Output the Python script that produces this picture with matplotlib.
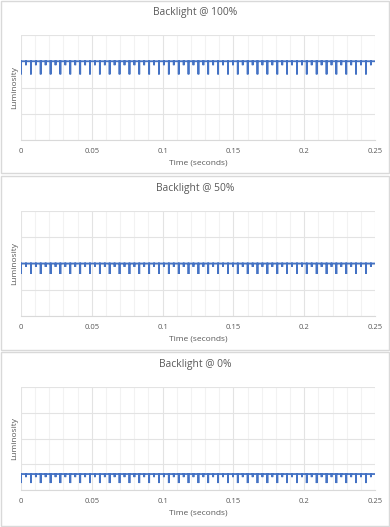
import matplotlib
matplotlib.use("Agg")
import matplotlib.pyplot as plt
from matplotlib.patches import Rectangle
from matplotlib.ticker import MultipleLocator

plt.rcParams['font.family'] = ['Open Sans', 'DejaVu Sans']

# ---- data ----
titles = ["Backlight @ 100%", "Backlight @ 50%", "Backlight @ 0%"]
levels = [3.0, 2.0, 0.62]            # steady luminosity level per panel
long_depth = [0.50, 0.40, 0.35]      # depth of the main dips
short_depth = [0.15, 0.13, 0.12]     # depth of the small ticks
long_dip_times = [0.0, 0.0070, 0.0139, 0.0209, 0.0278, 0.0348, 0.0418, 0.0487,
                  0.0557, 0.0626, 0.0696, 0.0766, 0.0835, 0.0905, 0.0974, 0.1044,
                  0.1114, 0.1183, 0.1253, 0.1322, 0.1392, 0.1462, 0.1531, 0.1601,
                  0.1670, 0.1740, 0.1810, 0.1879, 0.1949, 0.2018, 0.2088, 0.2158,
                  0.2227, 0.2297, 0.2366, 0.2436]
short_dip_times = [0.0035, 0.0105, 0.0174, 0.0244, 0.0313, 0.0383, 0.0453, 0.0522,
                   0.0592, 0.0661, 0.0731, 0.0801, 0.0870, 0.0940, 0.1009, 0.1079,
                   0.1149, 0.1218, 0.1288, 0.1357, 0.1427, 0.1497, 0.1566, 0.1636,
                   0.1705, 0.1775, 0.1845, 0.1914, 0.1984, 0.2053, 0.2123, 0.2193,
                   0.2262, 0.2332, 0.2401, 0.2471]
x_ticks = [0, 0.05, 0.1, 0.15, 0.2, 0.25]
x_tick_labels = ["0", "0.05", "0.1", "0.15", "0.2", "0.25"]

W, H = 390, 527
fig = plt.figure(figsize=(W / 100, H / 100), dpi=100)
fig.patch.set_facecolor("white")

LINE = "#4472C4"
TXT = "#595959"
BOX = "#D9D9D9"
GRID = "#E3E3E3"
MINOR = "#F2F2F2"

boxes = [(1, 173), (176, 350), (352, 526)]
axes_px = [(35, 140), (211, 316), (387, 490)]
title_y = [13, 188, 364]
ax_left, ax_right = 21, 375

for i in range(3):
    bt, bb = boxes[i]
    fig.patches.append(Rectangle((0.5 / W, 1 - bb / H), (W - 1.5) / W, (bb - bt) / H,
                                 transform=fig.transFigure, fill=False,
                                 edgecolor=BOX, linewidth=1.0))
    at, ab = axes_px[i]
    ax = fig.add_axes([ax_left / W, 1 - ab / H, (ax_right - ax_left) / W, (ab - at) / H])

    events = sorted([(t, long_depth[i]) for t in long_dip_times] +
                    [(t, short_depth[i]) for t in short_dip_times])
    xs, ys = [0.0], [levels[i]]
    eps = 0.00002
    for t, d in events:
        xs += [max(t - eps, 0.0), t, t + eps]
        ys += [levels[i], levels[i] - d, levels[i]]
    xs.append(0.25)
    ys.append(levels[i])
    ax.plot(xs, ys, color=LINE, linewidth=1.3, solid_joinstyle="miter", zorder=3)

    ax.set_xlim(0, 0.25)
    ax.set_ylim(0, 4)
    ax.set_xticks(x_ticks)
    ax.set_xticklabels(x_tick_labels)
    ax.xaxis.set_minor_locator(MultipleLocator(0.01))
    ax.yaxis.set_major_locator(MultipleLocator(1))
    ax.set_yticklabels([])
    ax.tick_params(axis="both", which="both", length=0)
    ax.tick_params(axis="x", labelsize=5.5, labelcolor=TXT, pad=6)
    ax.grid(True, which="major", color=GRID, linewidth=0.8)
    ax.grid(True, which="minor", axis="x", color=MINOR, linewidth=0.8)
    ax.set_axisbelow(True)
    for s in ["top", "right", "left"]:
        ax.spines[s].set_visible(False)
    ax.spines["bottom"].set_color(BOX)
    ax.spines["bottom"].set_linewidth(0.8)
    ax.set_xlabel("Time (seconds)", fontsize=6, color=TXT, labelpad=3)
    ax.set_ylabel("Luminosity", fontsize=6, color=TXT)
    ax.yaxis.set_label_coords(-0.008, 0.5)
    fig.text(0.5, 1 - title_y[i] / H, titles[i], ha="center", va="center",
             fontsize=7.4, color=TXT)

fig.savefig("out.png", dpi=100, facecolor="white")
